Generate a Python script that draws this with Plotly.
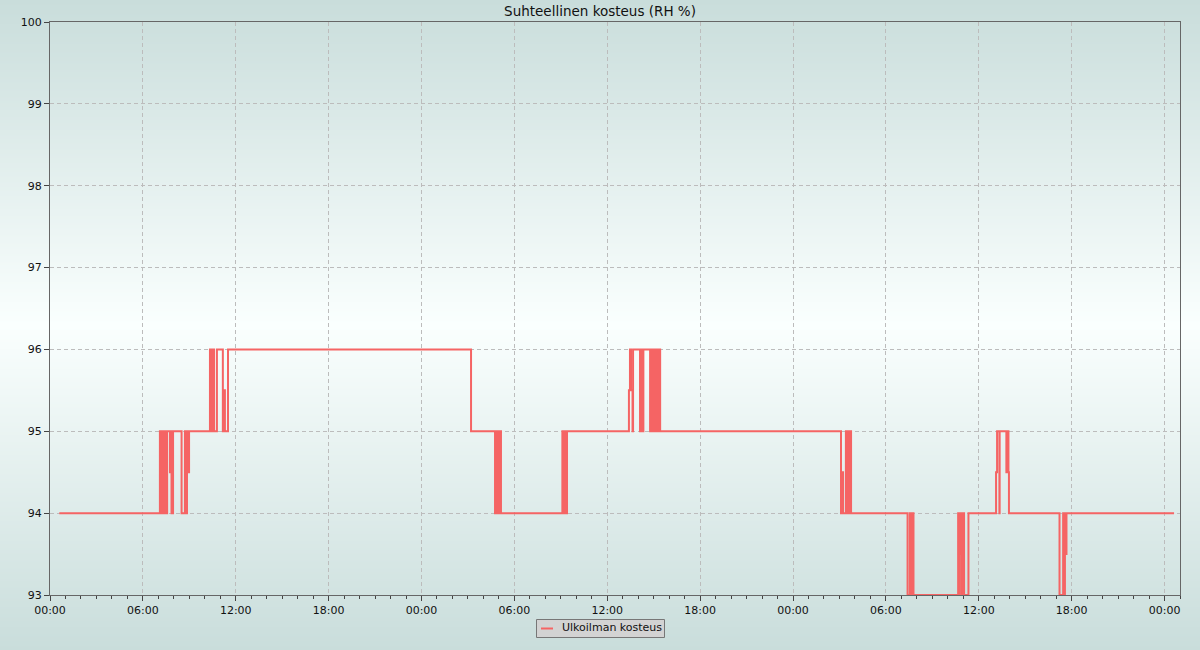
import base64, struct, zlib
import pandas as pd
import plotly.graph_objects as go

D1, D2, D3, D4 = "2023-10-09", "2023-10-10", "2023-10-11", "2023-10-12"

day1_times = ["00:36", "07:06", "07:12", "07:16", "07:20", "07:24", "07:30", "07:34", "07:45",
              "07:49", "07:51", "07:57", "08:30", "08:43", "08:47", "08:51", "08:55", "08:59",
              "10:20", "10:26", "10:30", "10:36", "10:47", "11:10", "11:14", "11:18", "11:30"]
day1_values = [94, 95, 94, 95, 94, 95, 94, 95, 94.5,
               95, 94, 95, 94, 95, 94, 95, 94.5, 95,
               96, 95, 96, 95, 96, 95, 95.5, 95, 96]

day2_times = ["03:12", "04:45", "04:49", "04:53", "04:57", "05:00", "05:04", "05:08",
              "09:06", "09:10", "09:14", "09:18", "09:24",
              "13:24", "13:28", "13:32", "13:38", "13:40", "14:07", "14:11", "14:15", "14:20",
              "14:46", "14:50", "14:54", "14:58", "15:02", "15:06", "15:10", "15:14", "15:18",
              "15:21", "15:25"]
day2_values = [95, 94, 95, 94, 95, 94, 95, 94,
               95, 94, 95, 94, 95,
               95.5, 96, 95.5, 95, 96, 95, 96, 95, 96,
               95, 96, 95, 96, 95, 96, 95, 96, 95,
               96, 95]

day3_times = ["03:06", "03:10", "03:14", "03:25", "03:29", "03:33", "03:38", "03:41", "03:45",
              "07:24", "07:33", "07:37", "07:41", "07:47",
              "10:40", "10:45", "10:47", "10:51", "10:55", "10:59", "11:03", "11:20",
              "13:07", "13:11", "13:20", "13:21", "13:47", "13:51", "13:55", "13:57",
              "17:13", "17:27", "17:30", "17:34", "17:36", "17:40"]
day3_values = [94, 94.5, 94, 95, 94, 95, 94, 95, 94,
               93, 94, 93, 94, 93,
               94, 93, 93.5, 94, 93, 94, 93, 94,
               94.5, 95, 94, 95, 94.5, 95, 94.5, 94,
               93, 94, 93, 94, 93.5, 94]

day4_times = ["00:37"]
day4_values = [94]

x_range = [D1 + " 00:00", D4 + " 01:00"]
y_range = [93, 100]
series_name = "Ulkoilman kosteus"
title_text = "Suhteellinen kosteus (RH %)"
line_color = "#f56464"

times = ([f"{D1} {t}" for t in day1_times] + [f"{D2} {t}" for t in day2_times]
         + [f"{D3} {t}" for t in day3_times] + [f"{D4} {t}" for t in day4_times])
values = day1_values + day2_values + day3_values + day4_values
times = pd.to_datetime(times)

# background gradient image (teal -> near white -> teal)
H, W = 650, 2
edge = (201, 221, 219)
mid = (250, 255, 254)
rows = []
for y in range(H):
    t = abs(y - 325) / 325.0
    rows.append(tuple(int(round(m + (e - m) * t)) for m, e in zip(mid, edge)))
raw = b"".join(b"\x00" + bytes(c) * W for c in rows)

def chunk(tag, data):
    return struct.pack(">I", len(data)) + tag + data + struct.pack(">I", zlib.crc32(tag + data) & 0xffffffff)

png = (b"\x89PNG\r\n\x1a\n" + chunk(b"IHDR", struct.pack(">IIBBBBB", W, H, 8, 2, 0, 0, 0))
       + chunk(b"IDAT", zlib.compress(raw)) + chunk(b"IEND", b""))
img_src = "data:image/png;base64," + base64.b64encode(png).decode()

L, R, T, B = 50, 20, 22, 55
pw, ph = 1200 - L - R, 650 - T - B

def px(xpix):
    return (xpix - L) / pw

def py(ypix):
    return (650 - B - ypix) / ph

fig = go.Figure()
fig.add_trace(go.Scatter(
    x=times, y=values, mode="lines", name=series_name, showlegend=False,
    line=dict(color=line_color, width=2, shape="hv"),
))

fig.add_layout_image(dict(
    source=img_src, xref="paper", yref="paper",
    x=-L / pw, y=1 + T / ph, sizex=1200 / pw, sizey=650 / ph,
    xanchor="left", yanchor="top", sizing="stretch", layer="below",
))

# legend box (drawn manually to match compact style)
fig.add_shape(type="rect", xref="paper", yref="paper",
              x0=px(536.5), x1=px(664.5), y0=py(637.5), y1=py(619.5),
              fillcolor="#d3d3d3", line=dict(color="#777777", width=1), layer="above")
fig.add_shape(type="line", xref="paper", yref="paper",
              x0=px(541), x1=px(553), y0=py(628.5), y1=py(628.5),
              line=dict(color=line_color, width=2), layer="above")
fig.add_annotation(text=series_name, xref="paper", yref="paper",
                   x=px(560), y=py(628), xanchor="left", yanchor="middle",
                   showarrow=False, font=dict(family="DejaVu Sans", size=11, color="#111111"))

axis_font = dict(family="DejaVu Sans", size=11, color="#111111")
fig.update_layout(
    width=1200, height=650,
    margin=dict(l=L, r=R, t=T, b=B, autoexpand=False),
    paper_bgcolor="#c9dddb", plot_bgcolor="rgba(0,0,0,0)",
    font=dict(family="DejaVu Sans", size=11, color="#111111"),
    title=dict(text=title_text, x=0.5, xref="container", xanchor="center",
               y=1 - 11 / 650, yref="container", yanchor="middle",
               font=dict(family="DejaVu Sans", size=13.5, color="#111111")),
    showlegend=False,
    xaxis=dict(
        type="date", range=x_range, tickformat="%H:%M",
        tick0=D1 + " 00:00", dtick=6 * 3600 * 1000,
        ticks="outside", ticklen=5, tickcolor="#444444",
        showline=True, linecolor="#666666", linewidth=1, mirror=True,
        showgrid=True, gridcolor="#bcbcbc", griddash="4px,3px", gridwidth=1,
        zeroline=False, tickfont=axis_font, automargin=False,
        minor=dict(dtick=3600 * 1000, ticks="outside", ticklen=3, tickcolor="#444444", showgrid=False),
    ),
    yaxis=dict(
        range=y_range, dtick=1, tick0=93,
        ticks="outside", ticklen=5, tickcolor="#444444",
        showline=True, linecolor="#666666", linewidth=1, mirror=True,
        showgrid=True, gridcolor="#bcbcbc", griddash="4px,3px", gridwidth=1,
        zeroline=False, tickfont=axis_font, automargin=False,
    ),
)

fig.write_html("out.html", config={"displayModeBar": False},
               post_script="document.body.style.margin='0';document.body.style.overflow='hidden';")
